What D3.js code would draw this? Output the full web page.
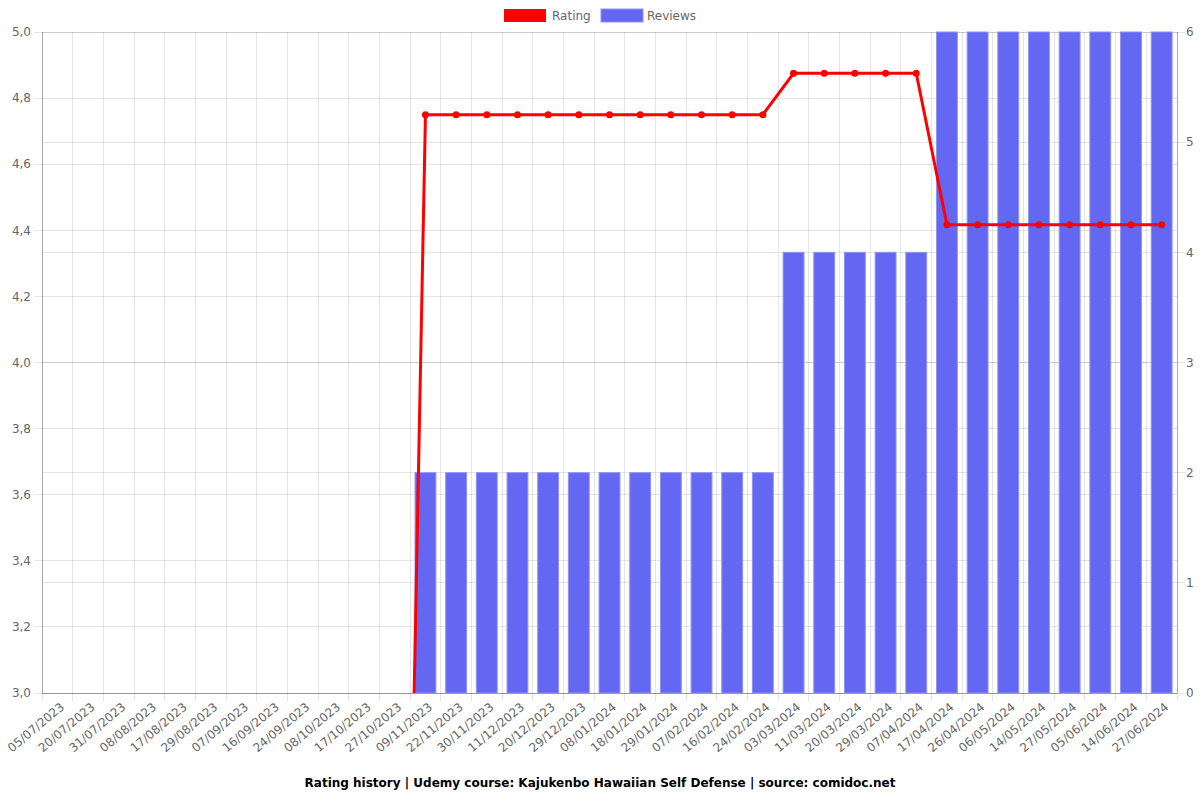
<!DOCTYPE html>
<html><head><meta charset="utf-8">
<script src="https://cdn.jsdelivr.net/npm/d3@7/dist/d3.min.js"></script>
<style>body{margin:0;background:#fff}svg{display:block}text{font-family:"DejaVu Sans",sans-serif}</style>
</head><body><svg id="c" width="1200" height="800"></svg>
<script>
const dates = ["05/07/2023","20/07/2023","31/07/2023","08/08/2023","17/08/2023","29/08/2023","07/09/2023","16/09/2023","24/09/2023","08/10/2023","17/10/2023","27/10/2023","09/11/2023","22/11/2023","30/11/2023","11/12/2023","20/12/2023","29/12/2023","08/01/2024","18/01/2024","29/01/2024","07/02/2024","16/02/2024","24/02/2024","03/03/2024","11/03/2024","20/03/2024","29/03/2024","07/04/2024","17/04/2024","26/04/2024","06/05/2024","14/05/2024","27/05/2024","05/06/2024","14/06/2024","27/06/2024"];
const rating = [0,0,0,0,0,0,0,0,0,0,0,0,4.75,4.75,4.75,4.75,4.75,4.75,4.75,4.75,4.75,4.75,4.75,4.75,4.875,4.875,4.875,4.875,4.875,4.4167,4.4167,4.4167,4.4167,4.4167,4.4167,4.4167,4.4167];
const reviews = [0,0,0,0,0,0,0,0,0,0,0,0,2,2,2,2,2,2,2,2,2,2,2,2,4,4,4,4,4,6,6,6,6,6,6,6,6];
const leftTicks = [3.0,3.2,3.4,3.6,3.8,4.0,4.2,4.4,4.6,4.8,5.0];
const rightTicks = [0,1,2,3,4,5,6];

const L=42,R=1177,T=32,B=693;
const svg=d3.select("#c");
const x=d3.scaleBand().domain(dates).range([L,R]);
const yL=d3.scaleLinear().domain([3,5]).range([B,T]);
const yR=d3.scaleLinear().domain([0,6]).range([B,T]);
const grid="rgba(0,0,0,0.1)";

// vertical grid at category boundaries
const bounds=dates.map(d=>x(d)).concat([R]);
svg.append("g").selectAll("line").data(bounds).join("line")
  .attr("x1",d=>d).attr("x2",d=>d).attr("y1",T).attr("y2",B+8)
  .attr("stroke",grid).attr("stroke-width",1).attr("shape-rendering","crispEdges");
// horizontal grid left
svg.append("g").selectAll("line").data(leftTicks).join("line")
  .attr("x1",L-8).attr("x2",R).attr("y1",d=>yL(d)).attr("y2",d=>yL(d))
  .attr("stroke",grid).attr("shape-rendering","crispEdges");
// horizontal grid right
svg.append("g").selectAll("line").data(rightTicks).join("line")
  .attr("x1",L).attr("x2",R+8).attr("y1",d=>yR(d)).attr("y2",d=>yR(d))
  .attr("stroke",grid).attr("shape-rendering","crispEdges");
// axis borders
svg.append("line").attr("x1",L).attr("x2",L).attr("y1",T).attr("y2",B).attr("stroke","rgba(0,0,0,0.25)").attr("shape-rendering","crispEdges");
svg.append("line").attr("x1",R).attr("x2",R).attr("y1",T).attr("y2",B).attr("stroke","rgba(0,0,0,0.25)").attr("shape-rendering","crispEdges");
svg.append("line").attr("x1",L).attr("x2",R).attr("y1",B).attr("y2",B).attr("stroke","rgba(0,0,0,0.25)").attr("shape-rendering","crispEdges");

// tick labels
svg.append("g").selectAll("text").data(leftTicks).join("text")
  .attr("x",L-11).attr("y",d=>yL(d)).attr("dy","0.35em").attr("text-anchor","end")
  .attr("font-size",12).attr("fill","#666").text(d=>d.toFixed(1).replace(".",","));
svg.append("g").selectAll("text").data(rightTicks).join("text")
  .attr("x",R+9).attr("y",d=>yR(d)).attr("dy","0.35em").attr("text-anchor","start")
  .attr("font-size",12).attr("fill","#666").text(d=>d);
svg.append("g").selectAll("text").data(dates).join("text")
  .attr("transform",d=>`translate(${x(d)+x.bandwidth()/2+5},${B+12}) rotate(-40)`)
  .attr("text-anchor","end").attr("dy","0.35em")
  .attr("font-size",12).attr("fill","#666").text(d=>d);

// bars
const bw=x.bandwidth()*0.68;
svg.append("g").selectAll("rect").data(dates.map((d,i)=>({d,v:reviews[i]})).filter(o=>o.v>0)).join("rect")
  .attr("x",o=>x(o.d)+(x.bandwidth()-bw)/2).attr("width",bw)
  .attr("y",o=>yR(o.v)).attr("height",o=>B-yR(o.v))
  .attr("fill","#6467f1").attr("stroke","#8f92f5").attr("stroke-width",1);

// rating line clipped
svg.append("clipPath").attr("id","clip").append("rect").attr("x",L).attr("y",T-5).attr("width",R-L).attr("height",B-T+5);
const pts=dates.map((d,i)=>({d,v:rating[i]}));
const g=svg.append("g").attr("clip-path","url(#clip)");
g.append("path").datum(pts)
  .attr("d",d3.line().x(o=>x(o.d)+x.bandwidth()/2).y(o=>yL(o.v)))
  .attr("fill","none").attr("stroke","#ff0000").attr("stroke-width",3).attr("stroke-linejoin","round");
g.selectAll("circle").data(pts).join("circle")
  .attr("cx",o=>x(o.d)+x.bandwidth()/2).attr("cy",o=>yL(o.v)).attr("r",3.5).attr("fill","#ff0000");

// legend
const lg=svg.append("g");
lg.append("rect").attr("x",504).attr("y",9).attr("width",42).attr("height",13).attr("fill","#ff0000");
lg.append("text").attr("x",552).attr("y",16).attr("dy","0.35em").attr("font-size",12).attr("fill","#666").text("Rating");
lg.append("rect").attr("x",601).attr("y",9).attr("width",42).attr("height",13).attr("fill","#6467f1").attr("stroke","#8f92f5");
lg.append("text").attr("x",647).attr("y",16).attr("dy","0.35em").attr("font-size",12).attr("fill","#666").text("Reviews");

// title
svg.append("text").attr("x",600).attr("y",783).attr("dy","0.35em").attr("text-anchor","middle")
  .attr("font-size",12).attr("font-weight","bold").attr("fill","#000")
  .text("Rating history | Udemy course: Kajukenbo Hawaiian Self Defense | source: comidoc.net");
</script></body></html>
